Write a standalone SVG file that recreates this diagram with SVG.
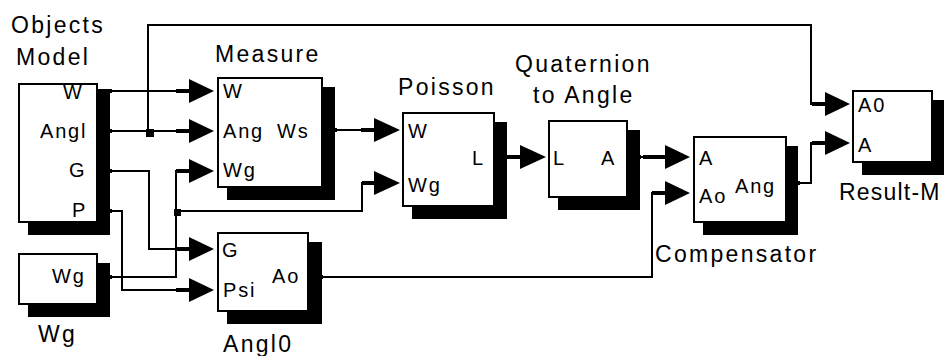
<svg xmlns="http://www.w3.org/2000/svg" width="944" height="356" viewBox="0 0 944 356">
<style>
.t{font-family:"Liberation Sans",Arial,sans-serif;font-size:23px;letter-spacing:2.3px;fill:#000}
.p{font-family:"Liberation Sans",Arial,sans-serif;font-size:20px;letter-spacing:1.8px;fill:#000}
.box{fill:#fff;stroke:#000;stroke-width:2}
.sh{fill:#000}
.w{fill:none;stroke:#000;stroke-width:2}
.s{fill:none;stroke:#000;stroke-width:4}
.ar{fill:#000}
</style>
<rect width="944" height="356" fill="#fff"/>
<g id="connectors">
<path class="w" d="M98 91H190"/>
<path class="w" d="M98 131H190"/>
<path class="w" d="M148 131V25H811V104H826"/>
<rect x="146" y="129" width="8" height="8" fill="#000"/>
<path class="w" d="M98 171H149V249H190"/>
<path class="w" d="M98 211H122V290H190"/>
<path class="w" d="M98 277H176V171H190"/>
<path class="w" d="M176 211H362V183H376"/>
<rect x="174" y="209" width="7" height="7" fill="#000"/>
<path class="w" d="M323 130H376"/>
<path class="w" d="M495 157H522"/>
<path class="w" d="M628 157H666"/>
<path class="w" d="M309 277H652V193H666"/>
<path class="w" d="M787 183H811V143H826"/>
<path class="s" d="M176 91H189M176 131H189M176 171H189M176 249H189M176 290H189M361 130H374M362 183H374M507 157H520M643 157H665M652 193H665M812 104H825M812 143H825"/>
<path class="s" d="M98 91H112M98 131H112M98 171H112M98 211H112M98 277H112M323 130H337M309 277H323M495 157H508M628 157H641M787 183H800"/>
<polygon class="ar" points="189,79 214,91 189,103"/>
<polygon class="ar" points="189,119 214,131 189,143"/>
<polygon class="ar" points="189,159 214,171 189,183"/>
<polygon class="ar" points="189,237 214,249 189,261"/>
<polygon class="ar" points="189,278 214,290 189,302"/>
<polygon class="ar" points="374,118 400,130 374,142"/>
<polygon class="ar" points="374,171 400,183 374,195"/>
<polygon class="ar" points="520,145 546,157 520,169"/>
<polygon class="ar" points="665,145 690,157 665,169"/>
<polygon class="ar" points="665,181 690,193 665,205"/>
<polygon class="ar" points="825,92 850,104 825,116"/>
<polygon class="ar" points="825,131 850,143 825,155"/>
</g>
<g id="objects-model">
<rect class="sh" x="28" y="93" width="82" height="142"/>
<rect class="box" x="19" y="84" width="78" height="138"/>
<text class="t" x="11" y="33">Objects</text>
<text class="t" x="16" y="65">Model</text>
<text class="p" x="63" y="99">W</text>
<text class="p" x="40" y="138">Angl</text>
<text class="p" x="69" y="177">G</text>
<text class="p" x="72" y="217">P</text>
</g>
<g id="wg">
<rect class="sh" x="28" y="263" width="82" height="54"/>
<rect class="box" x="19" y="254" width="78" height="50"/>
<text class="p" x="52" y="283">Wg</text>
<text class="t" x="38" y="342">Wg</text>
</g>
<g id="measure">
<rect class="sh" x="227" y="87" width="108" height="113"/>
<rect class="box" x="218" y="78" width="104" height="109"/>
<text class="t" x="215" y="62">Measure</text>
<text class="p" x="223" y="98">W</text>
<text class="p" x="223" y="138">Ang</text>
<text class="p" x="223" y="177">Wg</text>
<text class="p" x="277" y="138">Ws</text>
</g>
<g id="angl0">
<rect class="sh" x="227" y="242" width="95" height="82"/>
<rect class="box" x="218" y="233" width="90" height="78"/>
<text class="p" x="222" y="257">G</text>
<text class="p" x="223" y="297">Psi</text>
<text class="p" x="272" y="283">Ao</text>
<text class="t" x="223" y="352">Angl0</text>
</g>
<g id="poisson">
<rect class="sh" x="412" y="122" width="95" height="97"/>
<rect class="box" x="403" y="113" width="91" height="93"/>
<text class="t" x="398" y="95">Poisson</text>
<text class="p" x="408" y="138">W</text>
<text class="p" x="408" y="192">Wg</text>
<text class="p" x="472" y="165">L</text>
</g>
<g id="quaternion">
<rect class="sh" x="558" y="130" width="82" height="80"/>
<rect class="box" x="549" y="121" width="78" height="76"/>
<text class="t" x="515" y="72">Quaternion</text>
<text class="t" x="533" y="103">to Angle</text>
<text class="p" x="553" y="165">L</text>
<text class="p" x="601" y="165">A</text>
</g>
<g id="compensator">
<rect class="sh" x="703" y="146" width="95" height="89"/>
<rect class="box" x="694" y="137" width="92" height="85"/>
<text class="p" x="699" y="165">A</text>
<text class="p" x="699" y="203">Ao</text>
<text class="p" x="735" y="193">Ang</text>
<text class="t" x="655" y="262">Compensator</text>
</g>
<g id="result-m">
<rect class="sh" x="862" y="100" width="82" height="75"/>
<rect class="box" x="853" y="91" width="79" height="71"/>
<text class="p" x="858" y="112">A0</text>
<text class="p" x="858" y="152">A</text>
<text class="t" x="839" y="200" style="letter-spacing:1.2px">Result-M</text>
</g>
</svg>
